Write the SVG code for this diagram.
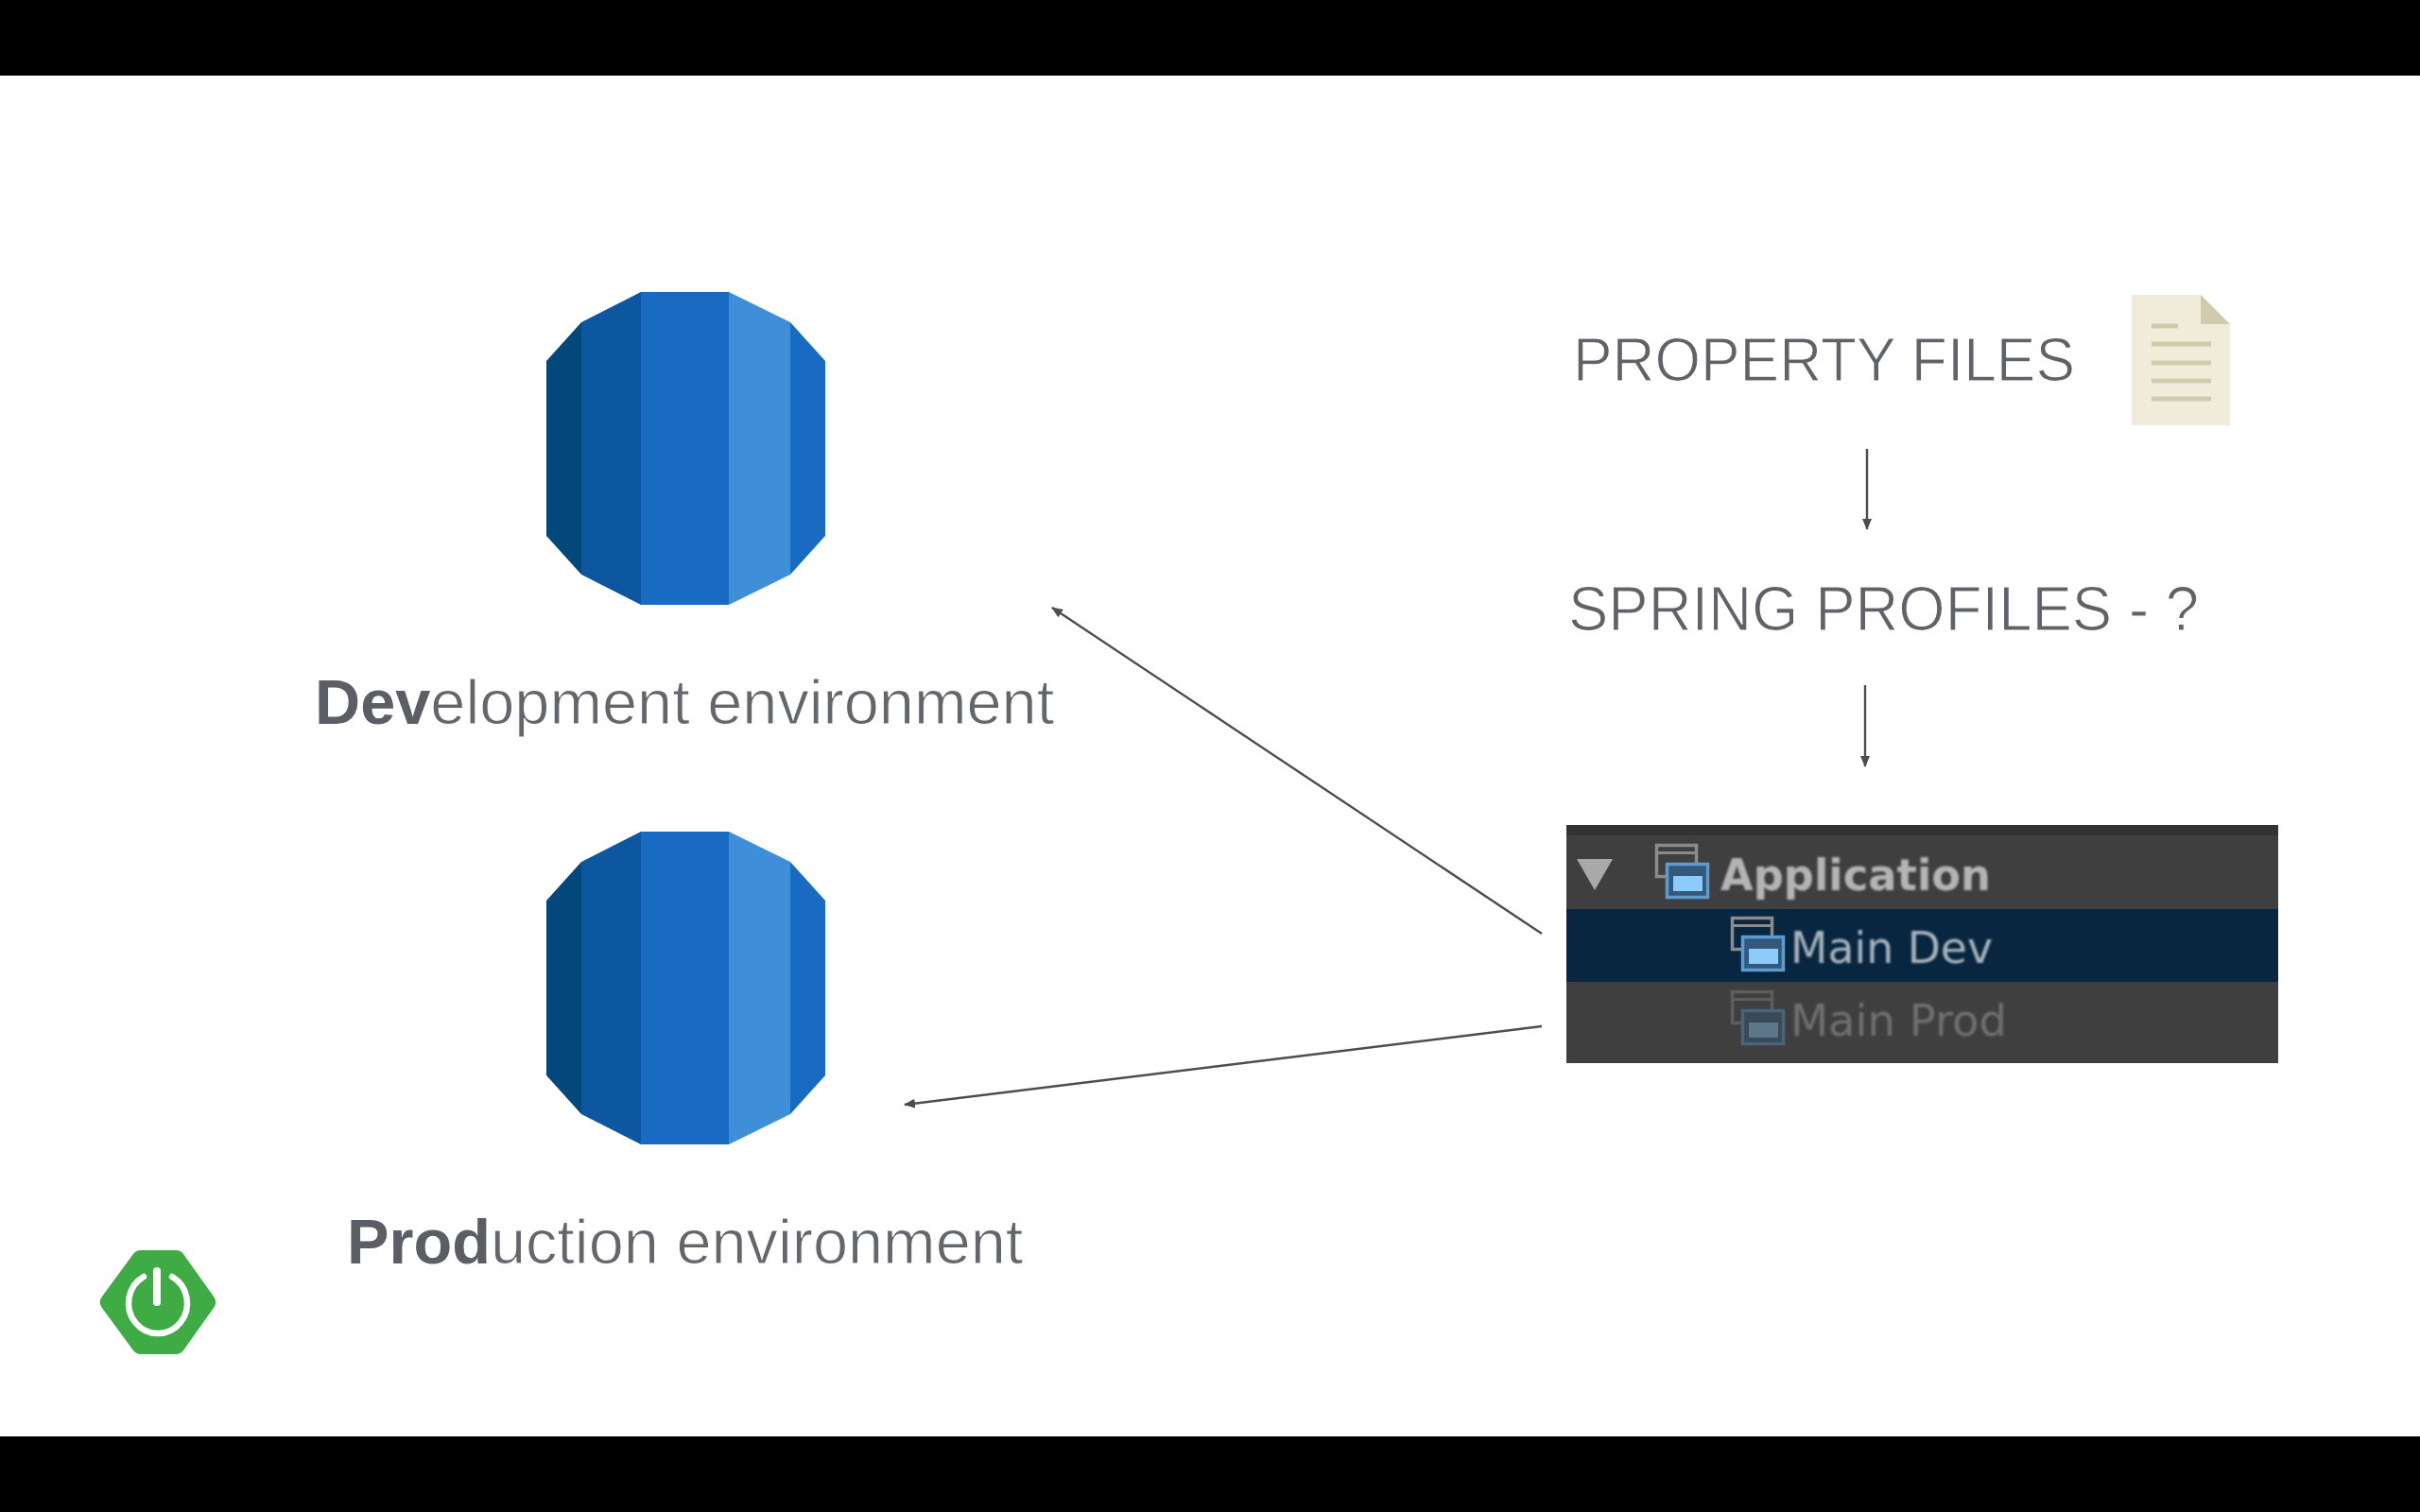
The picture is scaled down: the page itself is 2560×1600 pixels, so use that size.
<svg xmlns="http://www.w3.org/2000/svg" width="2560" height="1600" viewBox="0 0 2560 1600">
<style>
.lbl{font-family:"Liberation Sans",Arial,sans-serif;fill:#63666b;stroke:#fff;stroke-width:1px}
.lbl .b{font-weight:700;stroke:none;fill:#5b5e64}
.head{font-family:"Liberation Sans",Arial,sans-serif;fill:#5f6266;stroke:#fff;stroke-width:1.2px}
.tree{font-family:"DejaVu Sans",sans-serif;font-size:46px}
.conn{stroke:#4d4d4d;stroke-width:2.4;fill:none;marker-end:url(#arrow)}
.s1{fill:#03487a}.s2{fill:#0d56a0}.s3{fill:#196bc1}.s4{fill:#3e8ed8}
.fl{stroke:#cfcbae;stroke-width:5;fill:none}
</style>
<defs>
<marker id="arrow" viewBox="0 0 12 10" refX="11" refY="5" markerWidth="12" markerHeight="10" markerUnits="userSpaceOnUse" orient="auto"><path d="M0 0L12 5L0 10Z" fill="#4d4d4d"/></marker>
<filter id="soft" x="-5%" y="-10%" width="110%" height="120%"><feGaussianBlur stdDeviation="0.9"/></filter>
<g id="db">
<path class="s1" d="M578 382L615 341V608L578 567Z"/>
<path class="s2" d="M615 341L678 309V640L615 608Z"/>
<path class="s3" d="M678 309H771V640H678Z"/>
<path class="s4" d="M771 309L836 341V608L771 640Z"/>
<path class="s3" d="M836 341L873 382V567L836 608Z"/>
</g>
<g id="win">
<rect x="1752.500" y="894.500" width="42" height="33" fill="none" stroke="#8b8b8b" stroke-width="3.500"/>
<rect x="1754" y="901" width="39" height="3" fill="#8b8b8b"/>
<rect x="1763.500" y="914.500" width="43" height="35" fill="#33587a" stroke="#5b9bd0" stroke-width="3.500"/>
<rect x="1770" y="927" width="31" height="16" fill="#8ccbf8"/>
</g>
</defs>
<rect width="2560" height="1600" fill="#fff"/>
<rect width="2560" height="80" fill="#000"/>
<rect y="1520" width="2560" height="80" fill="#000"/>
<g id="db-dev"><use href="#db"/></g>
<g id="db-prod"><use href="#db" y="571"/></g>
<g id="label-dev"><text class="lbl" x="333" y="766" font-size="66.700"><tspan class="b">Dev</tspan>elopment environment</text></g>
<g id="label-prod"><text class="lbl" x="367" y="1337" font-size="66.700"><tspan class="b">Prod</tspan>uction environment</text></g>
<g id="property-files"><text class="head" x="1664" y="403" font-size="65" textLength="531" lengthAdjust="spacingAndGlyphs">PROPERTY FILES</text></g>
<g id="file-icon">
<path d="M2255 312H2328L2359 343V450H2255Z" fill="#f1ecd9"/>
<path d="M2328 312L2359 343H2328Z" fill="#cfcbac"/>
<path class="fl" d="M2276 345H2304M2276 364H2339M2276 384H2339M2276 403H2339M2276 422H2339"/>
</g>
<g id="spring-profiles"><text class="head" x="1659" y="667" font-size="66" textLength="667" lengthAdjust="spacingAndGlyphs">SPRING PROFILES - ?</text></g>
<g id="run-config">
<rect x="1657" y="873" width="753" height="252" fill="#3f3f40"/>
<rect x="1657" y="873" width="753" height="11" fill="#333334"/>
<rect x="1657" y="962" width="753" height="77" fill="#08263f"/>
<path d="M1668 909H1706L1687 942Z" fill="#a9a9a9"/>
<use href="#win"/>
<use href="#win" x="80" y="77"/>
<use href="#win" x="80" y="155" opacity="0.4"/>
<g filter="url(#soft)">
<text class="tree" x="1820" y="942" font-weight="700" fill="#b4b4b4" textLength="286" lengthAdjust="spacingAndGlyphs">Application</text>
<text class="tree" x="1894" y="1019" fill="#a9b4bd" textLength="214" lengthAdjust="spacingAndGlyphs">Main Dev</text>
<text class="tree" x="1894" y="1096" fill="#6f6f70" textLength="229" lengthAdjust="spacingAndGlyphs">Main Prod</text>
</g>
</g>
<g id="spring-logo">
<path d="M149 1333H186L218 1378L186 1423H149L116 1378Z" fill="#3fab45" stroke="#3fab45" stroke-width="20" stroke-linejoin="round"/>
<path d="M152 1351A31 32 0 1 0 182 1351" fill="none" stroke="#fff" stroke-width="6.500" stroke-linecap="round"/>
<path d="M166 1345V1378" fill="none" stroke="#fff" stroke-width="8" stroke-linecap="round"/>
</g>
<g id="connectors">
<path class="conn" d="M1975 475V560"/>
<path class="conn" d="M1973 725V811"/>
<path class="conn" d="M1631 988L1113 643"/>
<path class="conn" d="M1631 1086L957 1169"/>
</g>
</svg>
